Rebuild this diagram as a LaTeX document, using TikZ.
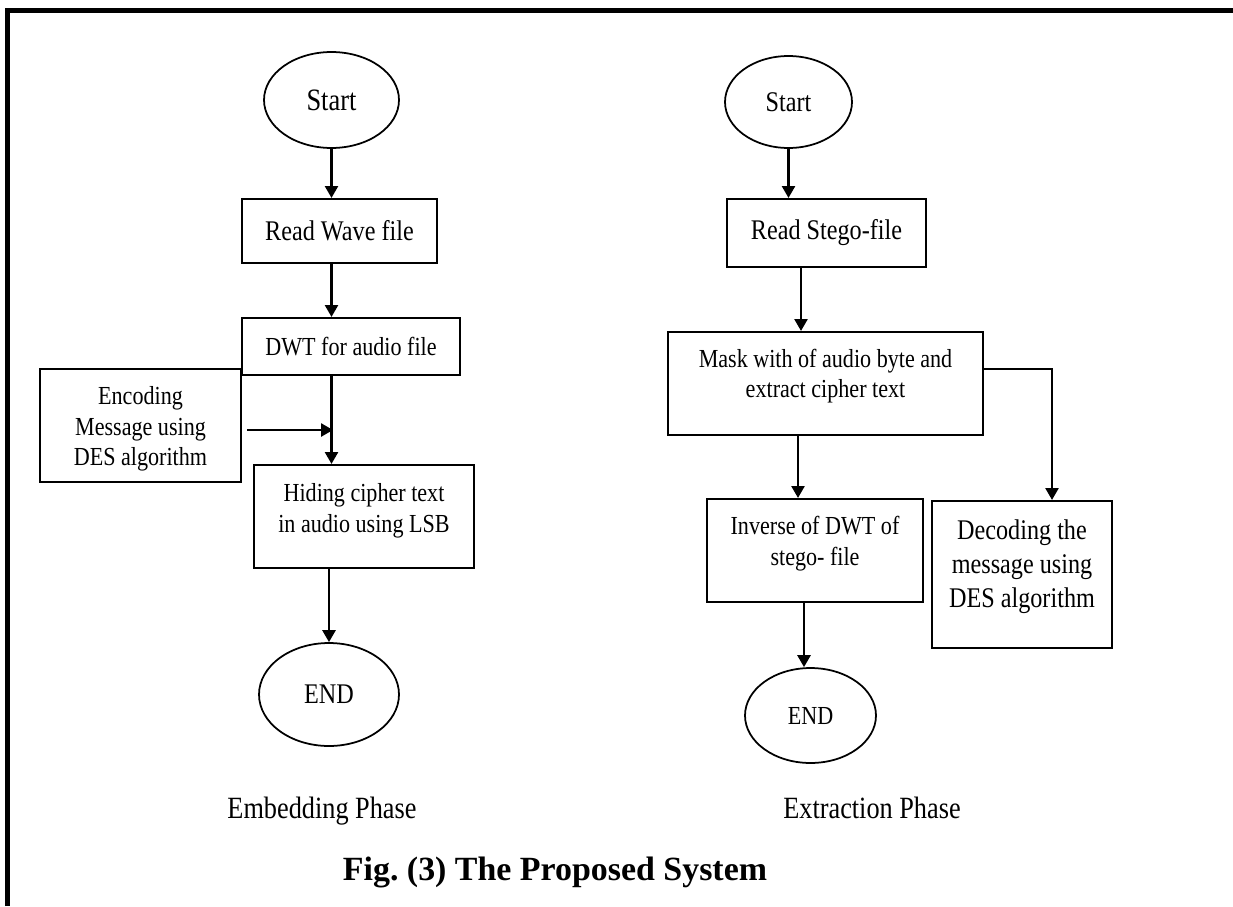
\documentclass[tikz,border=0pt]{standalone}
\usepackage{fontspec}
\setmainfont{Liberation Serif}
\newfontfamily\narrowFont{Liberation Serif}[FakeStretch=0.85]
\usetikzlibrary{arrows.meta,shapes.geometric,calc}
\tikzstyle{chart} = [x = 0.02cm, y = -0.02cm]
\tikzstyle{frameLine} = [line width=0.1cm]
\tikzstyle{smallText} = [font=\narrowFont\fontsize{14.8}{17.6}\selectfont]
\tikzstyle{bigText} = [font=\narrowFont\fontsize{16.2}{19.3}\selectfont]
\tikzstyle{startText} = [font=\narrowFont\fontsize{17.7}{21}\selectfont]
\tikzstyle{boxStyle} = [draw, line width=1.2pt, inner sep=0pt, smallText]
\tikzstyle{terminalStyle} = [draw, ellipse, line width=1pt, inner sep=0pt]
\tikzstyle{flowArrow} = [line width=1.4pt, -{Triangle[width=7.4pt,length=6.8pt]}]
\tikzstyle{phaseText} = [anchor=base, font=\narrowFont\fontsize{17.6}{21}\selectfont]
\tikzstyle{captionText} = [anchor=base, font=\bfseries\fontsize{19.3}{23}\selectfont]
\newcommand{\liftText}[2]{\raisebox{#1}[\height][\depth]{\begin{tabular}{@{}c@{}}#2\end{tabular}}}

\begin{document}
\begin{tikzpicture}[chart]
\useasboundingbox (0,0) rectangle (1233,906);
\draw [frameLine] (7.5,906) -- (7.5,10.5) -- (1233,10.5);
% embedding phase
\node [terminalStyle, startText, minimum width=2.7cm, minimum height=1.92cm] (startL) at (331.5,100) {Start};
\node [boxStyle, bigText, minimum width=3.9cm, minimum height=1.28cm] (readW) at (339.5,231) {Read Wave file};
\node [boxStyle, minimum width=4.36cm, minimum height=1.14cm] (dwt) at (351,346.5) {DWT for audio file};
\node [boxStyle, minimum width=4.02cm, minimum height=2.26cm] (enc) at (140.5,425.5) {\liftText{-1.9pt}{Encoding\\Message using\\DES algorithm}};
\node [boxStyle, minimum width=4.4cm, minimum height=2.06cm] (hide) at (364,516.5) {\liftText{3.4pt}{Hiding cipher text\\in audio using LSB}};
\node [terminalStyle, bigText, minimum width=2.8cm, minimum height=2.06cm] (endL) at (329,694.5) {END};
\draw [flowArrow] (startL.south) -- (startL.south |- readW.north);
\draw [flowArrow] (readW.south -| startL) -- (dwt.north -| startL);
\draw [flowArrow] (dwt.south -| startL) -- (hide.north -| startL);
\draw [flowArrow] ($(enc.east)+(5,4.5)$) -- ($(enc.east -| startL)+(1.5,4.5)$);
\draw [flowArrow] (hide.south -| endL) -- (endL.north);
% extraction phase
\node [terminalStyle, bigText, minimum width=2.54cm, minimum height=1.84cm] (startR) at (788.5,102) {Start};
\node [boxStyle, bigText, minimum width=3.98cm, minimum height=1.36cm] (readS) at (826.5,233) {Read Stego-file};
\node [boxStyle, minimum width=6.3cm, minimum height=2.06cm] (mask) at (825.5,383.5) {\liftText{4.1pt}{Mask with of audio byte and\\extract cipher text}};
\node [boxStyle, minimum width=4.32cm, minimum height=2.06cm] (inv) at (815,550.5) {\liftText{3.8pt}{Inverse of DWT of\\stego- file}};
\node [boxStyle, bigText, minimum width=3.6cm, minimum height=2.94cm] (dec) at (1022,574.5) {\liftText{4.5pt}{Decoding the\\message using\\DES algorithm}};
\node [terminalStyle, smallText, minimum width=2.62cm, minimum height=1.9cm] (endR) at (810.5,715.5) {END};
\draw [flowArrow] (startR.south) -- (startR.south |- readS.north);
\draw [flowArrow] ($(readS.south)+(-25.5,0)$) -- ($(mask.north)+(-24.5,0)$);
\draw [flowArrow] ($(mask.south)+(-27.5,0)$) -- ($(inv.north)+(-17,0)$);
\draw [flowArrow] ($(inv.south)+(-11,0)$) -- ($(endR.north)+(-6.5,0)$);
\draw [flowArrow] ($(mask.east)+(0,-14.5)$) -| ($(dec.north)+(30,0)$);
% labels
\node [phaseText] (embedLabel) at (322,818) {Embedding Phase};
\node [phaseText] (extractLabel) at (872,818) {Extraction Phase};
\node [captionText] (caption) at (555,880) {Fig.\ (3) The Proposed System};
\end{tikzpicture}
\end{document}
